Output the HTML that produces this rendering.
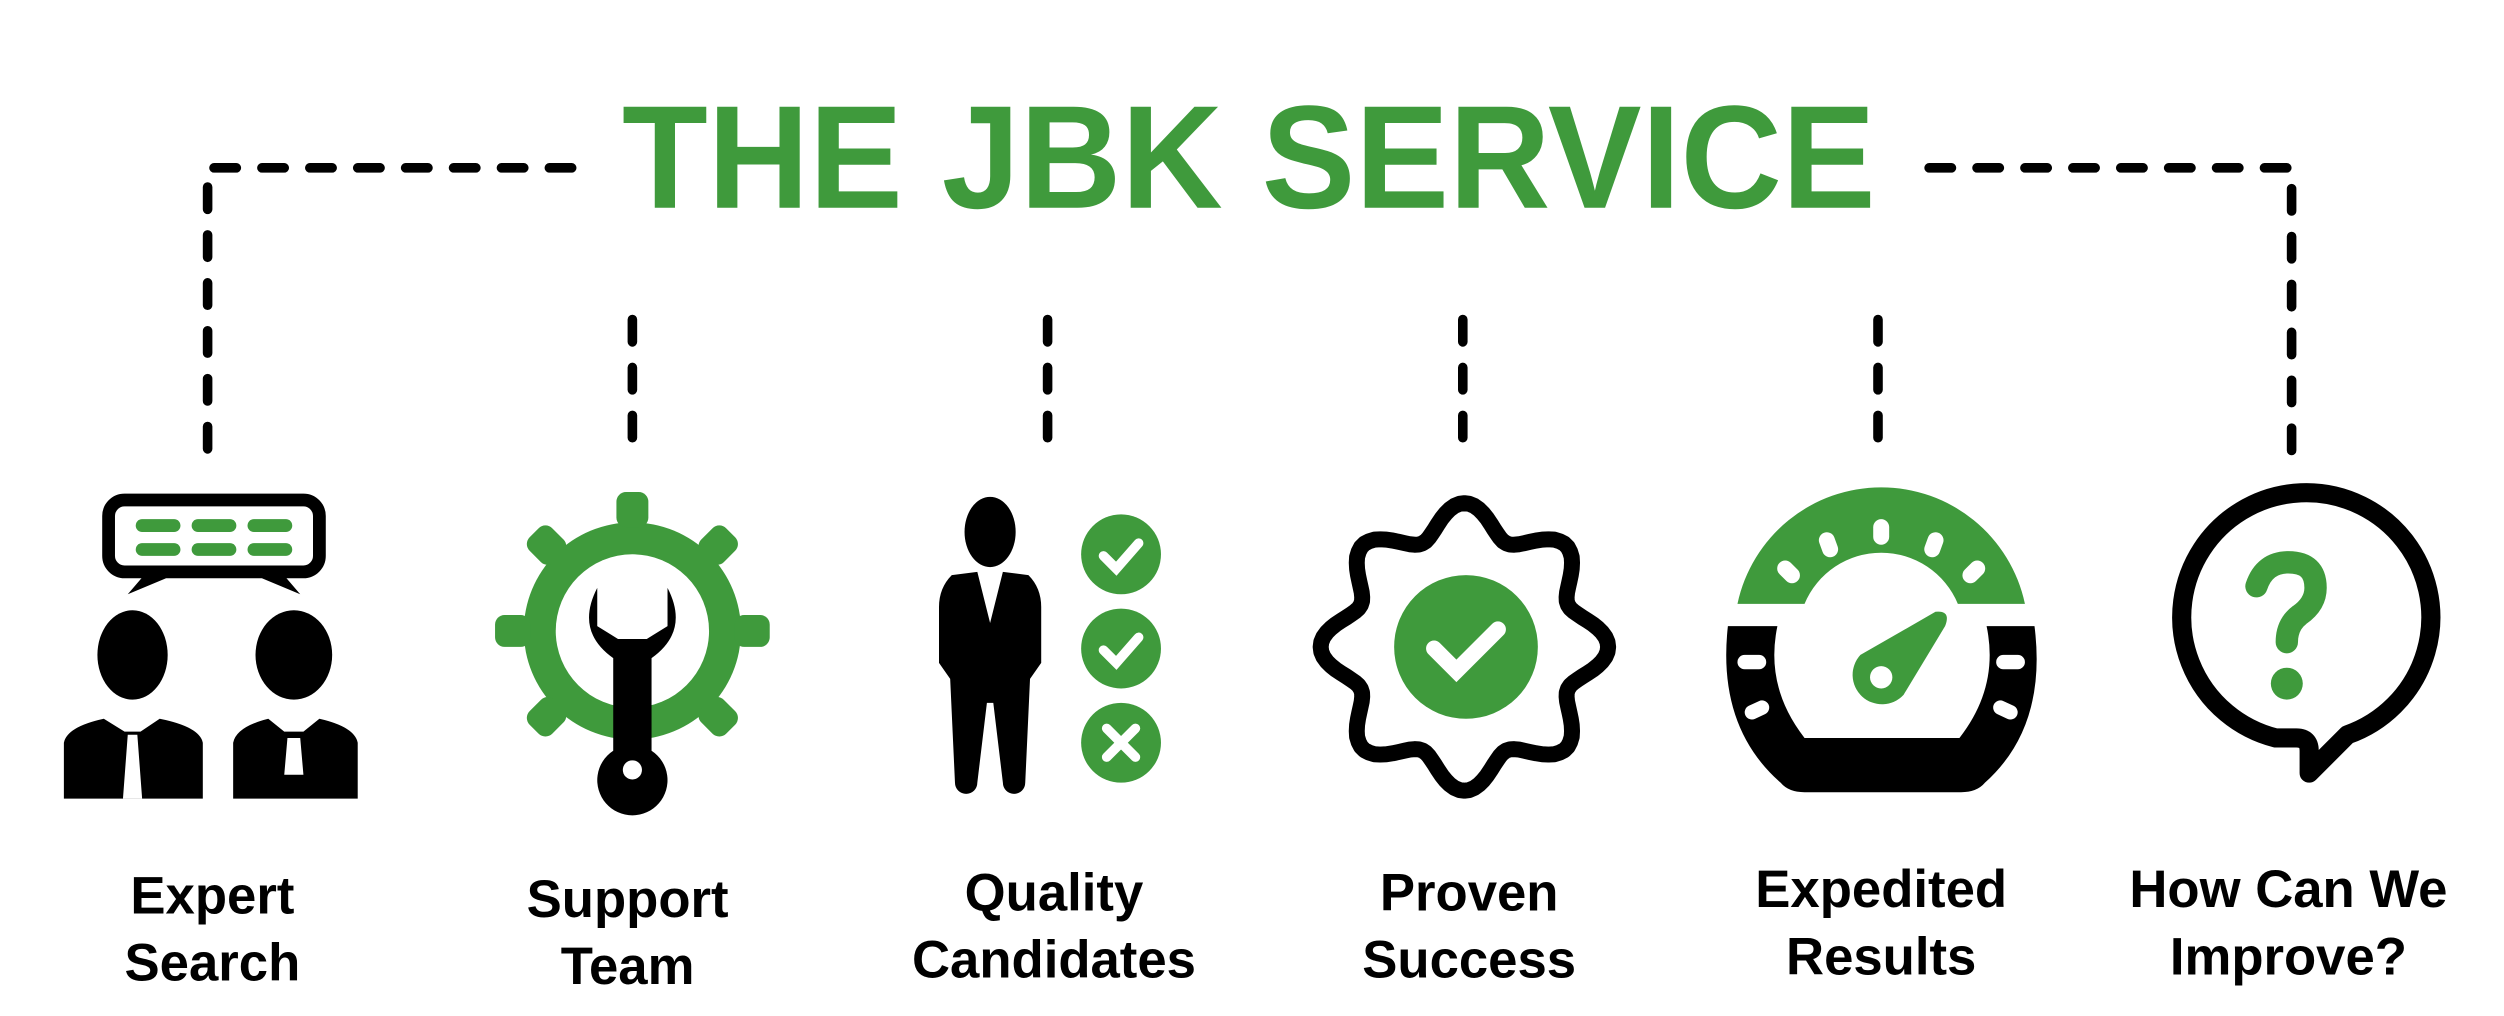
<!DOCTYPE html>
<html><head><meta charset="utf-8">
<style>
html,body{margin:0;padding:0;background:#fff;width:2504px;height:1016px;overflow:hidden}
svg{display:block}
text{font-family:"Liberation Sans",sans-serif;font-weight:bold}
</style></head>
<body>
<svg width="2504" height="1016" viewBox="0 0 1568 636" xmlns="http://www.w3.org/2000/svg">
<g>
<text x="782" y="130" text-anchor="middle" font-size="92" fill="#3f9a3c" textLength="785" lengthAdjust="spacingAndGlyphs">THE JBK SERVICE</text>
</g>
<g stroke="#000" stroke-width="6" stroke-linecap="round" stroke-dasharray="14 16" fill="none">
<path d="M358 105 H130 V285"/>
<path d="M1208 105 H1435 V285"/>
<path d="M396 200 V285"/><path d="M656 200 V285"/><path d="M916 200 V285"/><path d="M1176 200 V285"/>
</g>

<!-- 1 Expert search -->
<g>
<rect x="68" y="313" width="132" height="45" rx="10" fill="none" stroke="#000" stroke-width="8"/>
<path d="M92 358 L80 372 L104 362 Z M176 358 L188 372 L164 362 Z" fill="#000"/>
<g fill="#3f9a3c">
<rect x="85" y="325" width="28" height="8" rx="4"/><rect x="120" y="325" width="28" height="8" rx="4"/><rect x="155" y="325" width="28" height="8" rx="4"/>
<rect x="85" y="340" width="28" height="8" rx="4"/><rect x="120" y="340" width="28" height="8" rx="4"/><rect x="155" y="340" width="28" height="8" rx="4"/>
</g>
<g fill="#000">
<ellipse cx="83" cy="410" rx="22" ry="28"/>
<path d="M40 465 Q42 455 65 450 L78 458 L88 458 L100 450 Q125 455 127 465 L127 500 L40 500 Z"/>
<ellipse cx="184" cy="410" rx="24" ry="28"/>
<path d="M146 465 Q148 455 168 450 L178 458 L190 458 L200 450 Q222 455 224 465 L224 500 L146 500 Z"/>
</g>
<path d="M80 460 L86 460 L89 500 L77 500 Z M180 462 L188 462 L190 485 L178 485 Z" fill="#fff"/>
</g>

<!-- 2 Support team -->
<g>
<circle cx="396" cy="395" r="68" fill="#3f9a3c"/>
<g fill="#3f9a3c">
<rect x="386" y="308" width="20" height="22" rx="6"/><rect x="386" y="460" width="20" height="22" rx="6"/>
<rect x="310" y="385" width="22" height="20" rx="6"/><rect x="460" y="385" width="22" height="20" rx="6"/>
<rect x="386" y="308" width="20" height="22" rx="6" transform="rotate(45 396 395)"/><rect x="386" y="308" width="20" height="22" rx="6" transform="rotate(-45 396 395)"/>
<rect x="386" y="308" width="20" height="22" rx="6" transform="rotate(135 396 395)"/><rect x="386" y="308" width="20" height="22" rx="6" transform="rotate(-135 396 395)"/>
</g>
<circle cx="396" cy="395" r="48" fill="#fff"/>
<path d="M374 368 Q360 395 384 412 L384 470 A22 22 0 1 0 408 470 L408 412 Q432 395 418 368 L418 392 L405 400 L387 400 L374 392 Z" fill="#000"/>
<circle cx="396" cy="482" r="6" fill="#fff"/>
</g>

<!-- 3 Quality candidates -->
<g>
<g fill="#000">
<ellipse cx="620" cy="333" rx="16" ry="22"/>
<path d="M596 360 L612 358 L620 390 L628 358 L644 360 Q652 368 652 380 L652 415 L645 425 L642 490 A7 7 0 0 1 628 490 L622 440 L618 440 L612 490 A7 7 0 0 1 598 490 L595 425 L588 415 L588 380 Q588 368 596 360 Z"/>
</g>
<g fill="#3f9a3c"><circle cx="702" cy="347" r="25"/><circle cx="702" cy="406" r="25"/><circle cx="702" cy="465" r="25"/></g>
<g stroke="#fff" stroke-width="6" stroke-linecap="round" fill="none">
<path d="M691 348 L699 356 L713 340"/><path d="M691 407 L699 415 L713 399"/>
<path d="M693 456 L711 474 M711 456 L693 474"/>
</g>
</g>

<!-- 4 Proven success -->
<g>
<path id="badge" fill="none" stroke="#000" stroke-width="10" stroke-linejoin="round"/>
<circle cx="918" cy="405" r="45" fill="#3f9a3c"/>
<path d="M898 406 L912 420 L938 394" stroke="#fff" stroke-width="10" stroke-linecap="round" fill="none"/>
</g>

<!-- 5 Expedited results -->
<g>
<path d="M1088 378 A92 92 0 0 1 1268 378 L1226 378 A52 52 0 0 0 1130 378 Z" fill="#3f9a3c"/>
<g fill="#fff">
<rect x="1173" y="325" width="10" height="16" rx="5"/>
<rect x="1140" y="333" width="10" height="16" rx="5" transform="rotate(-20 1145 341)"/>
<rect x="1206" y="333" width="10" height="16" rx="5" transform="rotate(20 1211 341)"/>
<rect x="1115" y="350" width="10" height="16" rx="5" transform="rotate(-45 1120 358)"/>
<rect x="1231" y="350" width="10" height="16" rx="5" transform="rotate(45 1236 358)"/>
</g>
<path d="M1082 392 Q1075 455 1115 490 Q1120 496 1130 496 L1228 496 Q1238 496 1243 490 Q1282 455 1274 392 L1244 392 Q1252 430 1227 462 L1130 462 Q1105 430 1113 392 Z" fill="#000"/>
<g fill="#fff"><rect x="1088" y="410" width="18" height="9" rx="4.5"/><rect x="1250" y="410" width="18" height="9" rx="4.5"/>
<rect x="1092" y="440" width="16" height="9" rx="4.5" transform="rotate(-25 1100 444)"/><rect x="1248" y="440" width="16" height="9" rx="4.5" transform="rotate(25 1256 444)"/></g>
<path d="M1165 410 L1212 383 Q1222 382 1218 392 L1192 435 A15 15 0 1 1 1165 410 Z" fill="#3f9a3c"/>
<circle cx="1178" cy="424" r="7" fill="#fff"/>
</g>

<!-- 6 How can we improve -->
<g>
<path d="M1425 462 A78 78 0 1 1 1470 460 L1446 484 L1446 470 Q1446 462 1438 462 Z" fill="none" stroke="#000" stroke-width="12" stroke-linejoin="round"/>
<path d="M1413 367 Q1418 352 1433 352 Q1450 352 1450 368 Q1450 378 1440 385 Q1432 391 1432 402" fill="none" stroke="#3f9a3c" stroke-width="14" stroke-linecap="round"/>
<circle cx="1432" cy="428" r="10" fill="#3f9a3c"/>
</g>

<g font-size="33" fill="#000" text-anchor="middle">
<text x="133" y="572">Expert</text>
<text x="133" y="614">Search</text>
<text x="393" y="574">Support</text>
<text x="393" y="616">Team</text>
<text x="660" y="570">Quality</text>
<text x="660" y="612">Candidates</text>
<text x="920" y="570">Proven</text>
<text x="920" y="612">Success</text>
<text x="1178" y="568">Expedited</text>
<text x="1178" y="610">Results</text>
<text x="1433" y="568">How Can We</text>
<text x="1433" y="610">Improve?</text>
</g>
</svg>
<script>
// wavy badge outline
var cx=917, cy=405, pts=[];
for(var i=0;i<=360;i+=2){
  var a=i*Math.PI/180, r=80+10*Math.cos(8*a);
  pts.push((cx+r*Math.cos(a)).toFixed(1)+' '+(cy+r*Math.sin(a)).toFixed(1));
}
document.getElementById('badge').setAttribute('d','M'+pts.join(' L')+' Z');
</script>
</body></html>
